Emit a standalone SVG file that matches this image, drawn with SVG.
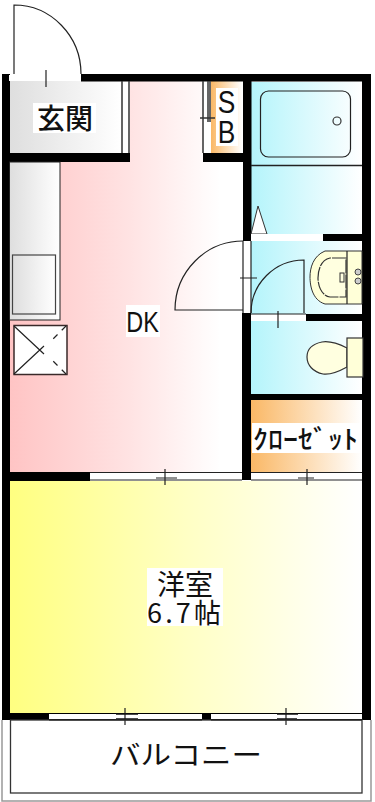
<svg xmlns="http://www.w3.org/2000/svg" width="375" height="802" viewBox="0 0 375 802">
<style>
.l{fill:none;stroke:#222;stroke-width:1.2}
.g{fill:none;stroke:#333;stroke-width:1.5}
.w{fill:#000}
.wh{fill:#fff}
.t{font-family:"Noto Sans CJK JP","Liberation Sans",sans-serif;fill:#111}
.n{font-family:"Liberation Sans","Noto Sans CJK JP",sans-serif;fill:#111}
</style>
<defs>
<linearGradient id="grey"><stop offset="0" stop-color="#dedede"/><stop offset="1" stop-color="#fff"/></linearGradient>
<linearGradient id="pink"><stop offset="0" stop-color="#ffc4c4"/><stop offset="0.5" stop-color="#ffe2e2"/><stop offset="0.9" stop-color="#fff"/></linearGradient>
<linearGradient id="cyan"><stop offset="0" stop-color="#b4f4fb"/><stop offset="1" stop-color="#fff"/></linearGradient>
<linearGradient id="orange"><stop offset="0" stop-color="#fab866"/><stop offset="1" stop-color="#fff"/></linearGradient>
<linearGradient id="yellow"><stop offset="0" stop-color="#ffff80"/><stop offset="0.5" stop-color="#ffffc4"/><stop offset="1" stop-color="#fff"/></linearGradient>
</defs>
<rect width="375" height="802" fill="#fff"/>
<g id="rooms">
<rect id="dk" x="9" y="81" width="235" height="392" fill="url(#pink)"/>
<rect id="genkan" x="9" y="81" width="113" height="72" fill="url(#grey)"/>
<rect x="121" y="81" width="9" height="72" fill="#fff"/>
<rect x="203" y="81" width="9" height="72" fill="#fff"/>
<rect id="sb" x="211" y="81" width="31" height="72" fill="url(#orange)"/>
<rect id="bath" x="251" y="82" width="111" height="83" fill="url(#cyan)"/>
<rect id="wash" x="251" y="166" width="111" height="68" fill="url(#cyan)"/>
<rect id="wash2" x="251" y="241" width="111" height="73" fill="url(#cyan)"/>
<rect id="wc" x="251" y="321" width="111" height="73" fill="url(#cyan)"/>
<rect id="closet" x="251" y="400" width="111" height="72" fill="url(#orange)"/>
<rect id="yoshitsu" x="9" y="481" width="353" height="232" fill="url(#yellow)"/>
</g>
<g id="walls">
<rect class="w" x="2" y="74" width="8" height="646"/>
<rect class="w" x="81" y="74" width="290" height="7.500"/>
<rect class="w" x="362" y="74" width="9" height="646"/>
<rect class="w" x="9" y="153" width="121" height="9"/>
<rect class="w" x="203" y="153" width="48" height="9"/>
<rect class="w" x="243" y="81" width="8.500" height="160"/>
<rect class="w" x="242" y="313" width="9" height="167"/>
<rect class="w" x="323" y="234" width="40" height="7"/>
<rect class="w" x="306" y="314" width="57" height="7"/>
<rect class="w" x="251" y="394" width="112" height="6"/>
<rect class="w" x="9" y="472" width="81" height="9"/>
<rect class="w" x="2" y="713" width="47" height="7"/>
<rect class="w" x="202" y="713" width="9" height="7"/>
<rect class="w" x="49" y="713" width="153" height="1"/>
<rect class="w" x="211" y="713" width="151" height="1"/>
<rect class="w" x="49" y="719" width="153" height="1.500"/>
<rect class="w" x="211" y="719" width="151" height="1.500"/>
</g>
<g id="fixtures">
<rect class="wh" x="9" y="75" width="72" height="6"/>
<path class="l" d="M14 74V5A67 69 0 0 1 81 74"/>
<path class="l" d="M46 70V87"/>
<path class="g" d="M122 81V153M129 81V153"/>
<path class="g" d="M203 81V153M208 81V122M210 81V122M200 118H215"/>
<path d="M251 234L258 206L267 234Z" fill="#fff" stroke="#333" stroke-width="1"/>
<rect x="260.500" y="91" width="90" height="66" rx="8" class="l"/>
<circle cx="337" cy="121" r="4" fill="none" stroke="#333" stroke-width="1.200"/>
<path d="M251 165.500H362" stroke="#222" stroke-width="1.500"/>
<rect class="wh" x="251" y="234" width="72" height="7"/>
<rect class="wh" x="243" y="241" width="8" height="72"/>
<path class="l" d="M251 241V313M243 241V313"/>
<path class="l" d="M243 241A68 69 0 0 0 175 310H243M240 278H257"/>
<path class="l" d="M304 313V260A53 53 0 0 0 251 313"/>
<rect class="wh" x="251" y="314" width="55" height="7"/>
<path class="l" d="M251 314H306M278 311V328"/>
<path d="M325 251H362V304H325C312 300 310 285 310 277C310 268 313 256 325 251Z" fill="#ffffd8" stroke="#333" stroke-width="1"/>
<path d="M347 251V304" class="l"/>
<path d="M346 258H330C320 260 318 272 318 278C318 286 322 296 330 297H346Z" fill="#ffffe0" stroke="#333" stroke-width="1.200" stroke-dasharray="14 1"/>
<rect x="340" y="273" width="4" height="9" fill="none" stroke="#333"/>
<circle cx="358" cy="272" r="3" fill="#ccc" stroke="#444"/>
<circle cx="358" cy="281" r="3" fill="#ccc" stroke="#444"/>
<path d="M347 348C335 342 328 341 322 342C312 344 307 349 307 357C307 365 313 372 323 374C330 375 338 372 347 367Z" fill="#ffffe0" stroke="#333" stroke-width="1.200"/>
<rect x="347" y="338" width="16" height="39" fill="#ffffd8" stroke="#333" stroke-width="1.200"/>
<rect x="9.500" y="162" width="50.500" height="158" fill="url(#grey)" stroke="#222" stroke-width="1"/>
<rect x="12.500" y="255" width="43" height="59" fill="url(#grey)" stroke="#444" stroke-width="1.200"/>
<rect x="14" y="325.500" width="53" height="49" fill="#fff" stroke="#3a2a2a" stroke-width="1.500"/>
<path class="l" d="M14 326L44 354M14 374L44 346"/>
<path class="l" stroke-dasharray="6 6" d="M66 326L51 341M66 374L51 359"/>
<rect class="wh" x="90" y="473" width="152" height="7"/>
<rect class="wh" x="251" y="473" width="111" height="7"/>
<path class="l" d="M90 472.500H242M90 480H242M251 472.500H362M251 480H362M165 469V485M156 478H177M298 478H314M307 469V485"/>
<rect class="wh" x="49" y="714" width="153" height="5"/>
<rect class="wh" x="211" y="714" width="151" height="5"/>
<path class="l" d="M125 708V725M286 708V725"/>
<path d="M116 714H138M116 719H138M277 714H298M277 719H297" stroke="#111" stroke-width="1.500"/>
</g>
<g id="balcony">
<rect x="10.500" y="720" width="351.500" height="73" fill="none" stroke="#333" stroke-width="1.300"/>
<path d="M2 720V801H371V720" fill="none" stroke="#999" stroke-width="1.500"/>
</g>
<g id="labels">
<rect class="wh" x="33" y="103" width="63" height="30"/>
<text class="t" x="65" y="129" font-size="28" font-weight="500" text-anchor="middle">玄関</text>
<rect class="wh" x="216" y="88" width="22" height="58"/>
<text class="n" font-size="31" transform="translate(226.500 0) scale(0.85 1)" text-anchor="middle"><tspan x="0" y="113">S</tspan><tspan x="0" y="143">B</tspan></text>
<rect class="wh" x="126" y="305" width="34" height="32"/>
<text class="n" x="0" y="332" font-size="30" text-anchor="middle" transform="translate(142.500 0) scale(0.78 1)">DK</text>
<rect class="wh" x="252" y="423" width="108" height="30"/>
<text class="t" x="253" y="449" font-size="26" font-weight="500" textLength="105" lengthAdjust="spacingAndGlyphs">ｸﾛｰｾﾞｯﾄ</text>
<rect class="wh" x="147" y="568" width="76" height="58"/>
<text class="t" x="157" y="595" font-size="28">洋室</text>
<text class="t" x="147" y="623" font-size="27" textLength="74">6.7帖</text>
<text class="t" x="186" y="765" font-size="27" text-anchor="middle" textLength="152" lengthAdjust="spacingAndGlyphs">バルコニー</text>
</g>
</svg>
